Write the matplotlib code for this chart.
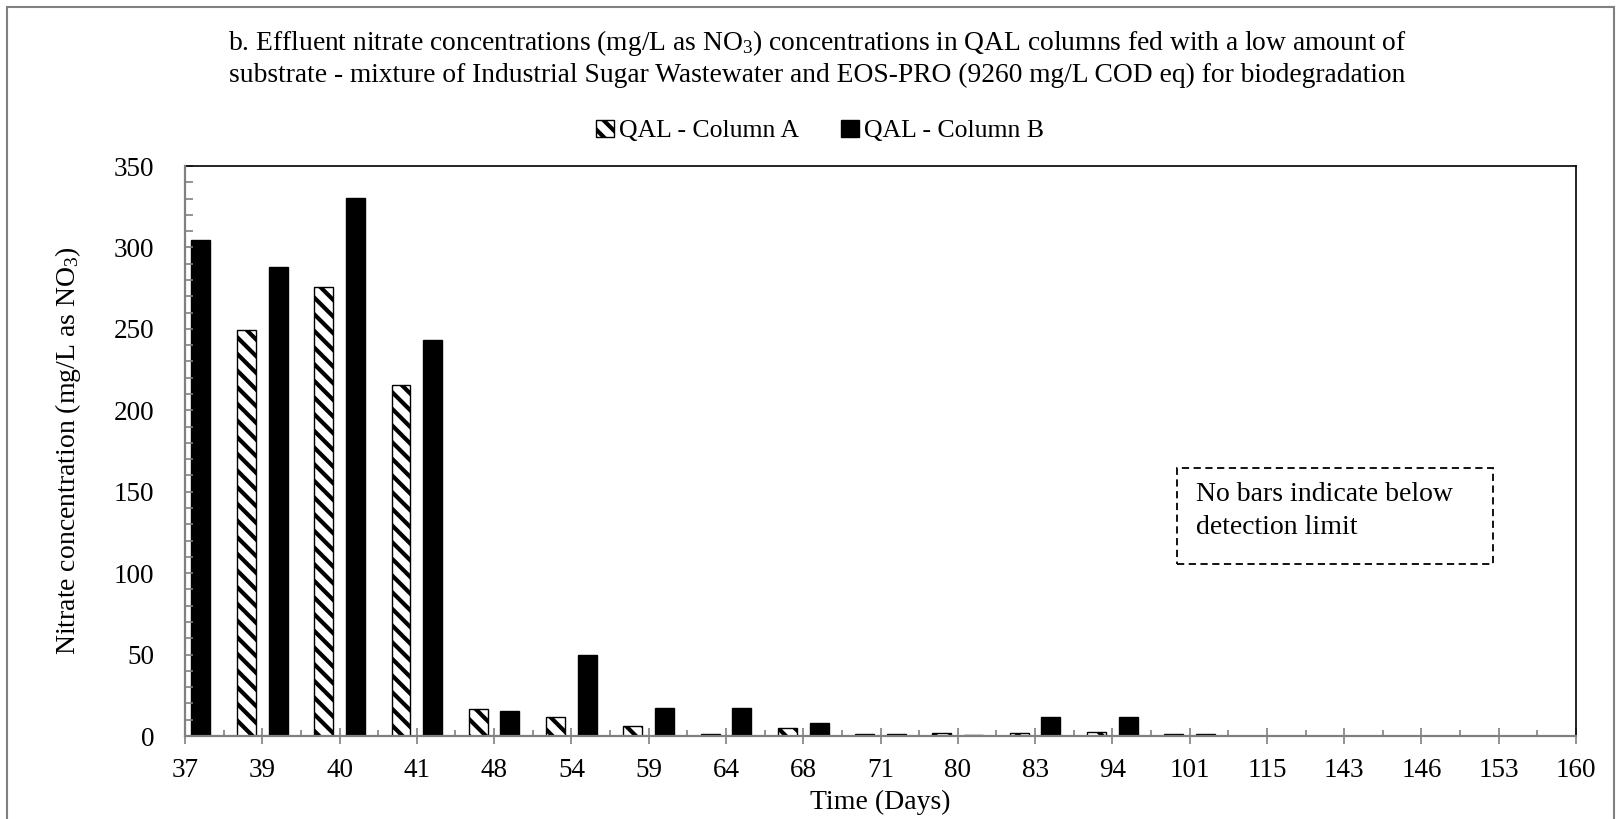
import matplotlib
matplotlib.use("Agg")
import matplotlib.pyplot as plt
from matplotlib.patches import Rectangle
import numpy as np

plt.rcParams['font.family'] = ['Liberation Serif', 'DejaVu Serif']
plt.rcParams['mathtext.default'] = 'regular'
plt.rcParams['hatch.linewidth'] = 3.0

# data
days = ['37', '39', '40', '41', '48', '54', '59', '64', '68', '71',
        '80', '83', '94', '101', '115', '143', '146', '153', '160']
col_a = [np.nan, 249, 276, 215.5, 16.4, 11.9, 6.3, 1.0, 4.7, 1.4,
         2.0, 1.6, 2.5, 1.0, np.nan, np.nan, np.nan, np.nan, np.nan]
col_b = [304.5, 288, 330.5, 243, 15.3, 49.5, 17, 17, 7.8, 1.4,
         0.8, 11.9, 11.7, 1.5, np.nan, np.nan, np.nan, np.nan, np.nan]

W, H = 1617, 819
fig = plt.figure(figsize=(W / 100, H / 100), dpi=100)
ax = fig.add_axes([185 / W, 1 - 736 / H, (1576 - 185) / W, (736 - 166) / H])

x = np.arange(len(days))
bw = 0.245
off = 0.205
ax.bar(x - off, col_a, bw, color='white', edgecolor='black', hatch='\\\\',
       linewidth=1.0, label='QAL - Column A')
ax.bar(x + off, col_b, bw, color='black', edgecolor='black',
       linewidth=1.0, label='QAL - Column B')

ax.set_xlim(0, len(days) - 1)
ax.set_ylim(0, 350)
ax.set_yticks(np.arange(0, 351, 50))
ax.set_yticks(np.arange(0, 351, 10), minor=True)
ax.set_xticks(x)
ax.set_xticklabels(days)
ax.set_xticks(x[:-1] + 0.5, minor=True)

gray = '#808080'
for s in ['left', 'bottom']:
    ax.spines[s].set_color(gray)
    ax.spines[s].set_linewidth(1.6)
    ax.spines[s].set_zorder(5)
for s in ['top', 'right']:
    ax.spines[s].set_color('black')
    ax.spines[s].set_linewidth(1.2)

ax.tick_params(axis='y', which='major', direction='in', length=6, width=1.2,
               color=gray, labelsize=19.5, pad=22)
ax.tick_params(axis='y', which='minor', direction='in', length=6, width=1.2,
               color=gray)
ax.tick_params(axis='x', which='major', direction='inout', length=11, width=1.2,
               color=gray, labelsize=19.5, pad=10)
ax.tick_params(axis='x', which='minor', direction='in', length=4, width=1.2,
               color=gray)

ax.set_xlabel('Time (Days)', fontsize=20, labelpad=5)
ax.set_ylabel('Nitrate concentration (mg/L as NO$_3$)', fontsize=20, labelpad=22)

fig.text(817 / W, 1 - 43 / H,
         'b. Effluent nitrate concentrations (mg/L as NO$_3$) concentrations in QAL columns fed with a low amount of',
         ha='center', va='center', fontsize=19.8)
fig.text(817 / W, 1 - 75 / H,
         'substrate - mixture of Industrial Sugar Wastewater and EOS-PRO (9260 mg/L COD eq) for biodegradation',
         ha='center', va='center', fontsize=19.8)

fig.legend(loc='center', bbox_to_anchor=(820 / W, 1 - 131 / H), ncol=2,
           frameon=False, fontsize=18.5, handlelength=0.7, handleheight=0.7,
           handletextpad=0.2, columnspacing=1.6)

# note box
fig.patches.append(Rectangle((1177 / W, 1 - 564 / H), (1493 - 1177) / W, (564 - 468) / H,
                             transform=fig.transFigure, fill=False,
                             edgecolor='black', linestyle=(0, (4, 2.5)), linewidth=1.3))
fig.text(1196 / W, 1 - 511 / H, 'No bars indicate below\ndetection limit',
         ha='left', va='center', fontsize=20, linespacing=1.45)

# outer frame
fig.patches.append(Rectangle((7 / W, -0.02), (1614 - 7) / W, 1.02 - 7 / H,
                             transform=fig.transFigure, fill=False,
                             edgecolor=gray, linewidth=1.5))

fig.savefig('out.png', dpi=100)
